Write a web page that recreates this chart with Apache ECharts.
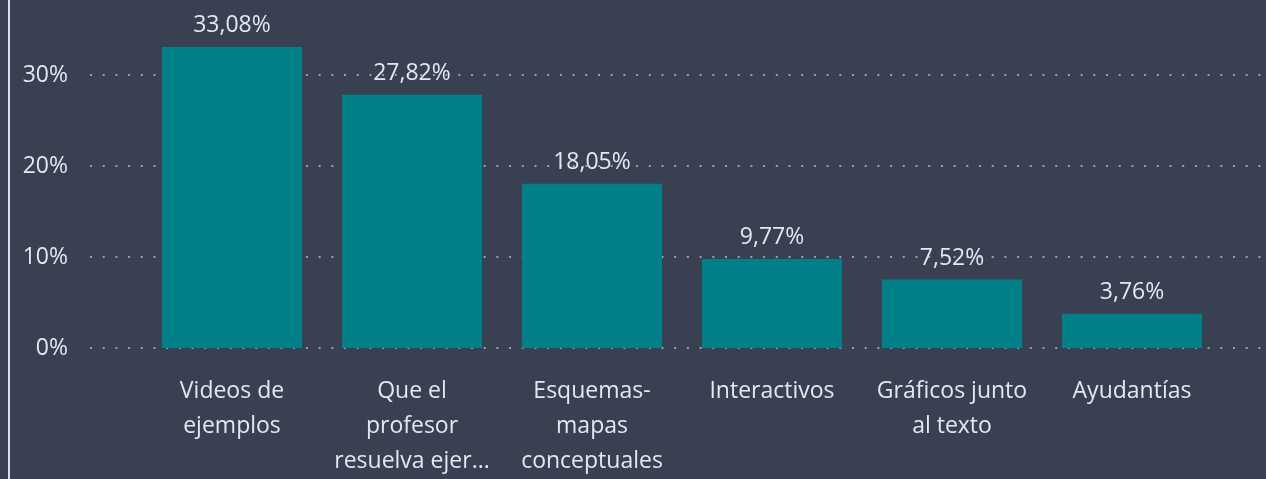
<!DOCTYPE html>
<html>
<head>
<meta charset="utf-8">
<script src="https://cdn.jsdelivr.net/npm/echarts@6/dist/echarts.min.js"></script>
<style>
  html, body { margin: 0; padding: 0; background: #394051; }
  #chart { width: 1266px; height: 479px; }
</style>
</head>
<body>
<div id="chart"></div>
<script>
// Preferred resource types (share of responses, %)
const categories = [
  'Videos de\nejemplos',
  'Que el\nprofesor\nresuelva ejer...',
  'Esquemas-\nmapas\nconceptuales',
  'Interactivos',
  'Gráficos junto\nal texto',
  'Ayudantías'
];
const shares = [33.08, 27.82, 18.05, 9.77, 7.52, 3.76];
const yTicks = { min: 0, max: 30, interval: 10 };

const textColor = '#e3e8ef';
const fontFamily = '"Open Sans", "Noto Sans", sans-serif';
const fontSize = 23;

const chart = echarts.init(document.getElementById('chart'), null, { renderer: 'canvas' });

const fmtPct = v => v.toFixed(2).replace('.', ',') + '%';

chart.setOption({
  backgroundColor: '#394051',
  animation: false,
  textStyle: { fontFamily: fontFamily },
  graphic: [{
    type: 'rect',
    shape: { x: 8, y: 0, width: 2, height: 479 },
    style: { fill: '#d6e0ec' }
  }],
  grid: [
    { left: 90, right: 4, top: 75, bottom: 131 },
    { left: 142, width: 1080, top: 75, bottom: 131 }
  ],
  xAxis: [
    { gridIndex: 0, type: 'category', data: [''], show: false },
    {
      gridIndex: 1,
      type: 'category',
      data: categories,
      axisLine: { show: false },
      axisTick: { show: false },
      axisLabel: {
        color: textColor,
        fontSize: fontSize,
        lineHeight: 35,
        margin: 26,
        interval: 0,
        fontFamily: fontFamily
      }
    }
  ],
  yAxis: [
    {
      gridIndex: 0,
      type: 'value',
      min: yTicks.min, max: yTicks.max, interval: yTicks.interval,
      axisLine: { show: false },
      axisTick: { show: false },
      axisLabel: {
        color: textColor,
        fontSize: fontSize,
        margin: 22,
        formatter: '{value}%',
        fontFamily: fontFamily
      },
      splitLine: {
        show: true,
        lineStyle: { color: '#9a9fa9', width: 2, type: [2, 10.7] }
      }
    },
    {
      gridIndex: 1,
      type: 'value',
      min: yTicks.min, max: yTicks.max, interval: yTicks.interval,
      show: false,
      splitLine: { show: false }
    }
  ],
  series: [{
    type: 'bar',
    xAxisIndex: 1,
    yAxisIndex: 1,
    data: shares,
    barWidth: 140,
    clip: false,
    z: 1,
    itemStyle: { color: '#01808a' },
    label: {
      show: true,
      position: 'top',
      distance: 10,
      color: textColor,
      fontSize: fontSize,
      fontFamily: fontFamily,
      formatter: p => fmtPct(p.value)
    }
  }]
});
</script>
</body>
</html>
